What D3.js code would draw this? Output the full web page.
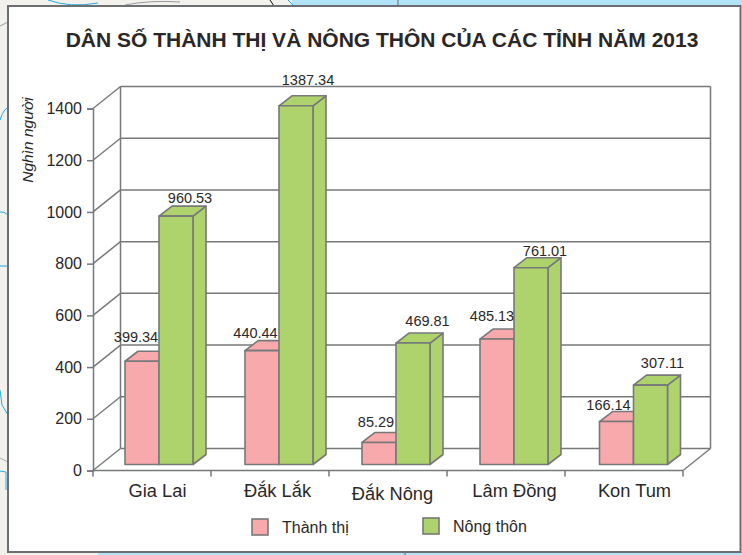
<!DOCTYPE html>
<html>
<head>
<meta charset="utf-8">
<script src="https://cdn.jsdelivr.net/npm/d3@7/dist/d3.min.js"></script>
<style>
html,body{margin:0;padding:0;background:#fff}
svg{display:block}
text{font-family:"Liberation Sans",Arial,sans-serif;fill:#2b2728}
</style>
</head>
<body>
<svg id="c" width="742" height="555"></svg>
<script>
const titleText = "DÂN SỐ THÀNH THỊ VÀ NÔNG THÔN CỦA CÁC TỈNH NĂM 2013";
const yLabel = "Nghìn người";
const categories = ["Gia Lai", "Đắk Lắk", "Đắk Nông", "Lâm Đồng", "Kon Tum"];
const seriesNames = ["Thành thị", "Nông thôn"];
const urban = [399.34, 440.44, 85.29, 485.13, 166.14];
const rural = [960.53, 1387.34, 469.81, 761.01, 307.11];
const yTicks = [0, 200, 400, 600, 800, 1000, 1200, 1400];
const valueLabels = [
  ["399.34", "440.44", "85.29", "485.13", "166.14"],
  ["960.53", "1387.34", "469.81", "761.01", "307.11"]
];

// layout only
const colors = ["#f7a9ac", "#afd36c"];
const edge = "#76787a";
const groupNudge = [-1.5, 0.5, -0.5, -0.5, 1];
const labelShift = [
  [[-6, 19], [-6.5, 13], [-3, 15], [-5, 18], [-8, 12]],
  [[14, 13], [12, 21], [14.5, 17], [14, 12], [12, 17]]
];
const catShift = [[-3, 0], [-1, 0], [-4, 3], [0, 0], [2, 0]];

const svg = d3.select("#c");

// backdrop behind the panel
const bg = svg.append("g");
bg.append("rect").attr("width", 742).attr("height", 555).attr("fill", "#f2f1ec");
bg.append("rect").attr("x", 292).attr("y", 0).attr("width", 450).attr("height", 6).attr("fill", "#b2e3f9");
bg.append("rect").attr("x", 98).attr("y", 552).attr("width", 644).attr("height", 3).attr("fill", "#b2e3f9");
[["M48 0 Q70 8 98 3", "#29abe2"], ["M0 120 Q4 108 8 108", "#29abe2"], ["M0 212 Q4 211 8 215", "#29abe2"],
 ["M0 266 L8 266", "#29abe2"], ["M0 390 L2 405 L8 415", "#29abe2"], ["M0 471 L6 472 L6 490", "#29abe2"],
 ["M288 0 L294 6", "#29abe2"], ["M0 26 L8 22", "#999"], ["M0 458 L8 462", "#aaa"],
 ["M125 5 Q150 0 180 2", "#999"], ["M270 0 L274 6", "#111"], ["M398 0 L398 6", "#666"], ["M405 552 L405 555", "#666"]]
  .forEach(d => bg.append("path").attr("d", d[0]).attr("fill", "none").attr("stroke", d[1]).attr("stroke-width", 1));

svg.append("rect").attr("x", 8).attr("y", 6).attr("width", 732.5).attr("height", 546)
  .attr("fill", "#fff").attr("stroke", "#6d6e71").attr("stroke-width", 2);

// scales
const x = d3.scaleBand().domain(categories).range([93, 683]);
const xInner = d3.scaleBand().domain([0, 1]).range([33.5, 101.5]);
const y = d3.scaleLinear().domain([0, 1400]).range([470.5, 108.5]);

const wallDx = 27.5, wallDy = -22;
const barLift = -6, depthX = 13, depthY = -10;

// walls and grid
const wall = svg.append("g").attr("fill", "none").attr("stroke", edge).attr("stroke-width", 1.5);
yTicks.forEach(t => {
  wall.append("line").attr("x1", 93).attr("y1", y(t)).attr("x2", 93 + wallDx).attr("y2", y(t) + wallDy);
  wall.append("line").attr("x1", 93 + wallDx).attr("y1", y(t) + wallDy).attr("x2", 683 + wallDx).attr("y2", y(t) + wallDy);
});
wall.append("line").attr("x1", 93 + wallDx).attr("y1", y(0) + wallDy).attr("x2", 93 + wallDx).attr("y2", y(1400) + wallDy);
wall.append("line").attr("x1", 683 + wallDx).attr("y1", y(0) + wallDy).attr("x2", 683 + wallDx).attr("y2", y(1400) + wallDy);
wall.append("line").attr("x1", 683).attr("y1", y(0)).attr("x2", 683 + wallDx).attr("y2", y(0) + wallDy);

// axes
const yAxis = svg.append("g").attr("transform", "translate(93,0)")
  .call(d3.axisLeft(y).tickValues(yTicks).tickFormat(d3.format("d")).tickSize(6).tickPadding(5));
yAxis.selectAll("path,line").attr("stroke", edge).attr("stroke-width", 1.5);
yAxis.selectAll("text").attr("font-size", 16).attr("font-family", '"Liberation Sans"').attr("fill", "#2b2728");

const xBase = svg.append("g").attr("stroke", edge).attr("stroke-width", 1.5);
xBase.append("line").attr("x1", 93).attr("x2", 683).attr("y1", y(0)).attr("y2", y(0));
categories.forEach(c => {
  xBase.append("line").attr("x1", x(c)).attr("x2", x(c)).attr("y1", y(0)).attr("y2", y(0) + 6);
});
xBase.append("line").attr("x1", 683).attr("x2", 683).attr("y1", y(0)).attr("y2", y(0) + 6);

// bars
[urban, rural].forEach((values, s) => {
  const g = svg.append("g").attr("stroke", edge).attr("stroke-width", 1.6)
    .attr("stroke-linejoin", "round").attr("fill", colors[s]);
  categories.forEach((c, i) => {
    const x0 = x(c) + xInner(s) + groupNudge[i], x1 = x0 + xInner.bandwidth();
    const yb = y(0) + barLift, yt = y(values[i]) + barLift;
    g.append("path").attr("d", `M${x1} ${yb}L${x1 + depthX} ${yb + depthY}L${x1 + depthX} ${yt + depthY}L${x1} ${yt}Z`);
    g.append("path").attr("d", `M${x0} ${yt}L${x0 + depthX} ${yt + depthY}L${x1 + depthX} ${yt + depthY}L${x1} ${yt}Z`);
    g.append("rect").attr("x", x0).attr("y", yt).attr("width", x1 - x0).attr("height", yb - yt);
  });
});

// value labels
[urban, rural].forEach((values, s) => {
  categories.forEach((c, i) => {
    const cx = x(c) + xInner(s) + xInner.bandwidth() / 2 + groupNudge[i];
    svg.append("text").attr("x", cx + labelShift[s][i][0])
      .attr("y", y(values[i]) + barLift - labelShift[s][i][1])
      .attr("text-anchor", "middle").attr("font-size", 14.5).text(valueLabels[s][i]);
  });
});

// category labels
categories.forEach((c, i) => {
  svg.append("text").attr("x", x(c) + xInner(1) + catShift[i][0])
    .attr("y", 497 + catShift[i][1]).attr("text-anchor", "middle")
    .attr("font-size", 18.3).text(c);
});

// title and y title
svg.append("text").attr("x", 382).attr("y", 47).attr("text-anchor", "middle")
  .attr("font-size", 21).attr("font-weight", "bold").text(titleText);
svg.append("text").attr("transform", "translate(33,140) rotate(-90)").attr("text-anchor", "middle")
  .attr("font-size", 15.5).attr("font-style", "italic").text(yLabel);

// legend
const legendX = [252, 423], legendY = [519, 518];
seriesNames.forEach((n, s) => {
  svg.append("rect").attr("x", legendX[s]).attr("y", legendY[s]).attr("width", 16).attr("height", 16)
    .attr("fill", colors[s]).attr("stroke", edge).attr("stroke-width", 1.6);
  svg.append("text").attr("x", legendX[s] + 30).attr("y", legendY[s] + 14)
    .attr("font-size", 16).text(n);
});
</script>
</body>
</html>
